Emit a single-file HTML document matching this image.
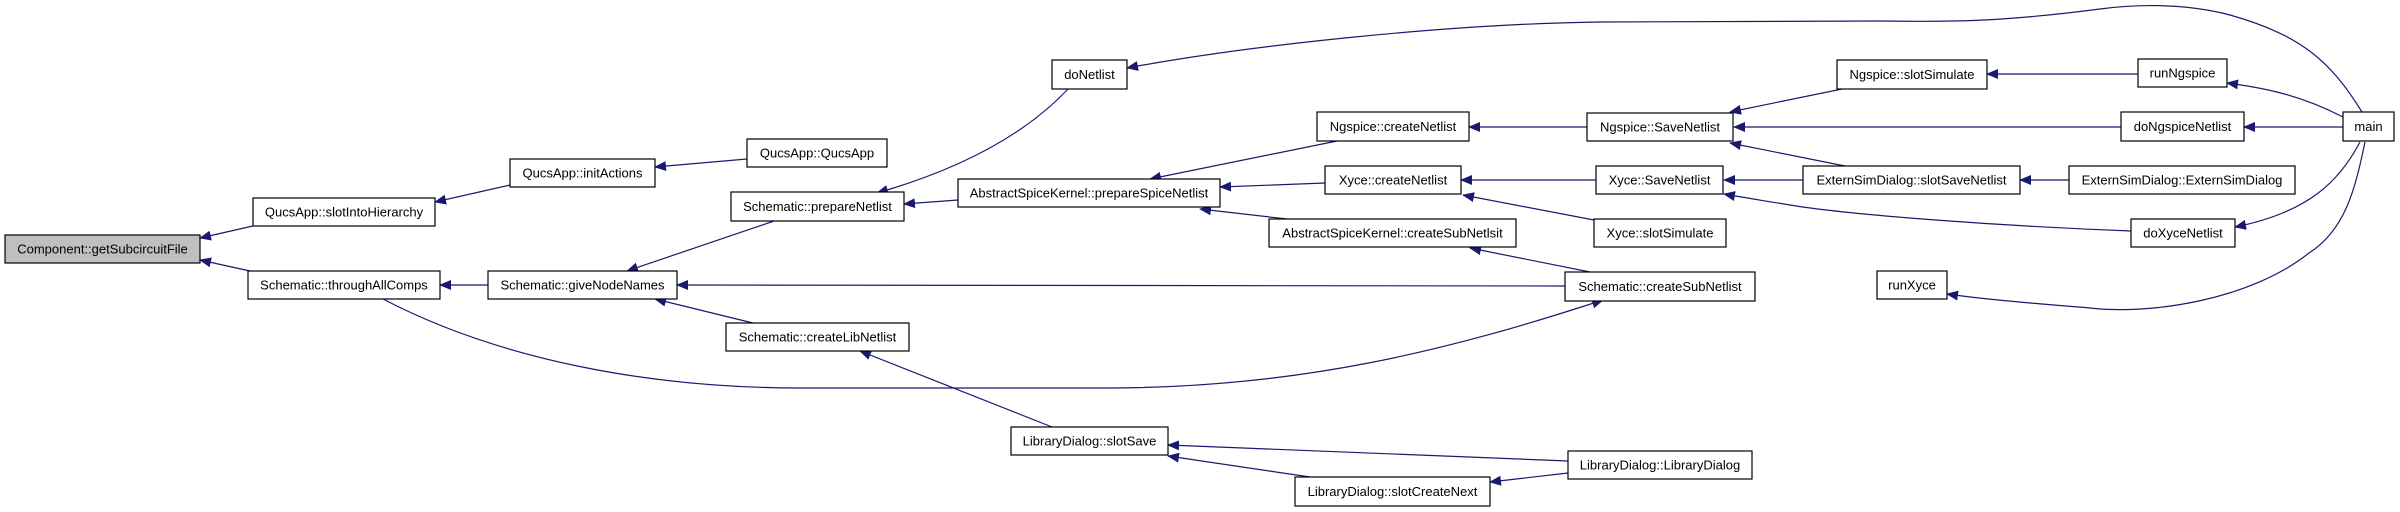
<!DOCTYPE html>
<html><head><meta charset="utf-8"><style>
html,body{margin:0;padding:0;background:#fff;}
svg{display:block;}
text{font-family:"Liberation Sans",Helvetica,sans-serif;font-size:13px;fill:#000;}
</style></head><body>
<svg width="2400" height="512" viewBox="0 0 2400 512" xmlns="http://www.w3.org/2000/svg">
<defs>
<marker id="a" markerWidth="12" markerHeight="10" refX="11" refY="5" orient="auto" markerUnits="userSpaceOnUse">
<path d="M0,0 L12,5 L0,10 Z" fill="#191970"/>
</marker>
</defs>
<g fill="none" stroke="#191970" stroke-width="1.2" marker-end="url(#a)">
<path d="M253,226 L200,238"/>
<path d="M250,271 L200,260"/>
<path d="M510,185 L435,202"/>
<path d="M747,159 L655,167"/>
<path d="M488,285 L440,285"/>
<path d="M774,221 L627,271"/>
<path d="M1565,286 L677,285"/>
<path d="M753,323 L655,299"/>
<path d="M383,299 C500,360 650,388 800,388 L1106,388 C1300,388 1450,350 1603,300"/>
<path d="M1068,89 C1020,140 950,172 877,193"/>
<path d="M2362,112 C2330,60 2300,35 2230,15 C2180,2 2130,5 2100,9 C2000,22 1950,22 1880,21 L1600,22 C1450,24 1250,45 1127,68"/>
<path d="M958,200 L904,204"/>
<path d="M1337,141 L1150,179"/>
<path d="M1325,183 L1220,187"/>
<path d="M1287,219 L1200,209"/>
<path d="M1590,272 L1470,248"/>
<path d="M1594,220 L1463,195"/>
<path d="M1587,127 L1469,127"/>
<path d="M1596,180 L1461,180"/>
<path d="M1052,427 L860,351"/>
<path d="M1568,461 L1168,445"/>
<path d="M1310,477 L1168,456"/>
<path d="M1568,473 L1490,482"/>
<path d="M1842,89 L1730,112"/>
<path d="M2138,74 L1987,74"/>
<path d="M2121,127 L1734,127"/>
<path d="M2343,127 L2244,127"/>
<path d="M1845,166 L1730,143"/>
<path d="M1803,180 L1724,180"/>
<path d="M2069,180 L2020,180"/>
<path d="M2131,231 C2000,226 1850,215 1790,205 C1760,200 1740,197 1724,194"/>
<path d="M2360,142 C2340,180 2310,212 2235,227"/>
<path d="M2365,142 C2355,190 2345,230 2309,253 C2250,300 2150,315 2090,308 C2030,303 1990,300 1947,294"/>
<path d="M2343,117 C2300,95 2265,88 2227,83"/>
</g>
<g stroke="#000" stroke-width="1.2" fill="#fff">
<rect x="5" y="235" width="195" height="28" fill="#bfbfbf"/>
<rect x="253" y="198" width="182" height="28"/>
<rect x="510" y="159" width="145" height="28"/>
<rect x="747" y="139" width="140" height="28"/>
<rect x="731" y="192" width="173" height="29"/>
<rect x="248" y="271" width="192" height="28"/>
<rect x="488" y="271" width="189" height="28"/>
<rect x="726" y="323" width="183" height="28"/>
<rect x="1052" y="60" width="75" height="29"/>
<rect x="958" y="179" width="262" height="28"/>
<rect x="1317" y="112" width="152" height="29"/>
<rect x="1325" y="166" width="136" height="28"/>
<rect x="1269" y="219" width="247" height="28"/>
<rect x="1565" y="272" width="190" height="29"/>
<rect x="1011" y="427" width="157" height="28"/>
<rect x="1295" y="477" width="195" height="29"/>
<rect x="1568" y="451" width="184" height="28"/>
<rect x="1587" y="113" width="146" height="28"/>
<rect x="1596" y="166" width="127" height="28"/>
<rect x="1594" y="219" width="132" height="28"/>
<rect x="1837" y="60" width="150" height="29"/>
<rect x="2138" y="59" width="89" height="28"/>
<rect x="2121" y="112" width="123" height="29"/>
<rect x="2343" y="112" width="51" height="29"/>
<rect x="1803" y="166" width="217" height="28"/>
<rect x="2069" y="166" width="226" height="28"/>
<rect x="2131" y="219" width="104" height="28"/>
<rect x="1877" y="271" width="70" height="28"/>
</g>
<g text-anchor="middle">
<text x="102.5" y="253.5">Component::getSubcircuitFile</text>
<text x="344" y="216.5">QucsApp::slotIntoHierarchy</text>
<text x="582.5" y="177.5">QucsApp::initActions</text>
<text x="817" y="157.5">QucsApp::QucsApp</text>
<text x="817.5" y="211">Schematic::prepareNetlist</text>
<text x="344" y="289.5">Schematic::throughAllComps</text>
<text x="582.5" y="289.5">Schematic::giveNodeNames</text>
<text x="817.5" y="341.5">Schematic::createLibNetlist</text>
<text x="1089.5" y="79">doNetlist</text>
<text x="1089" y="197.5">AbstractSpiceKernel::prepareSpiceNetlist</text>
<text x="1393" y="131">Ngspice::createNetlist</text>
<text x="1393" y="184.5">Xyce::createNetlist</text>
<text x="1392.5" y="237.5">AbstractSpiceKernel::createSubNetlsit</text>
<text x="1660" y="291">Schematic::createSubNetlist</text>
<text x="1089.5" y="445.5">LibraryDialog::slotSave</text>
<text x="1392.5" y="496">LibraryDialog::slotCreateNext</text>
<text x="1660" y="469.5">LibraryDialog::LibraryDialog</text>
<text x="1660" y="131.5">Ngspice::SaveNetlist</text>
<text x="1659.5" y="184.5">Xyce::SaveNetlist</text>
<text x="1660" y="237.5">Xyce::slotSimulate</text>
<text x="1912" y="79">Ngspice::slotSimulate</text>
<text x="2182.5" y="77.5">runNgspice</text>
<text x="2182.5" y="131">doNgspiceNetlist</text>
<text x="2368.5" y="131">main</text>
<text x="1911.5" y="184.5">ExternSimDialog::slotSaveNetlist</text>
<text x="2182" y="184.5">ExternSimDialog::ExternSimDialog</text>
<text x="2183" y="237.5">doXyceNetlist</text>
<text x="1912" y="289.5">runXyce</text>
</g>
</svg>
</body></html>
